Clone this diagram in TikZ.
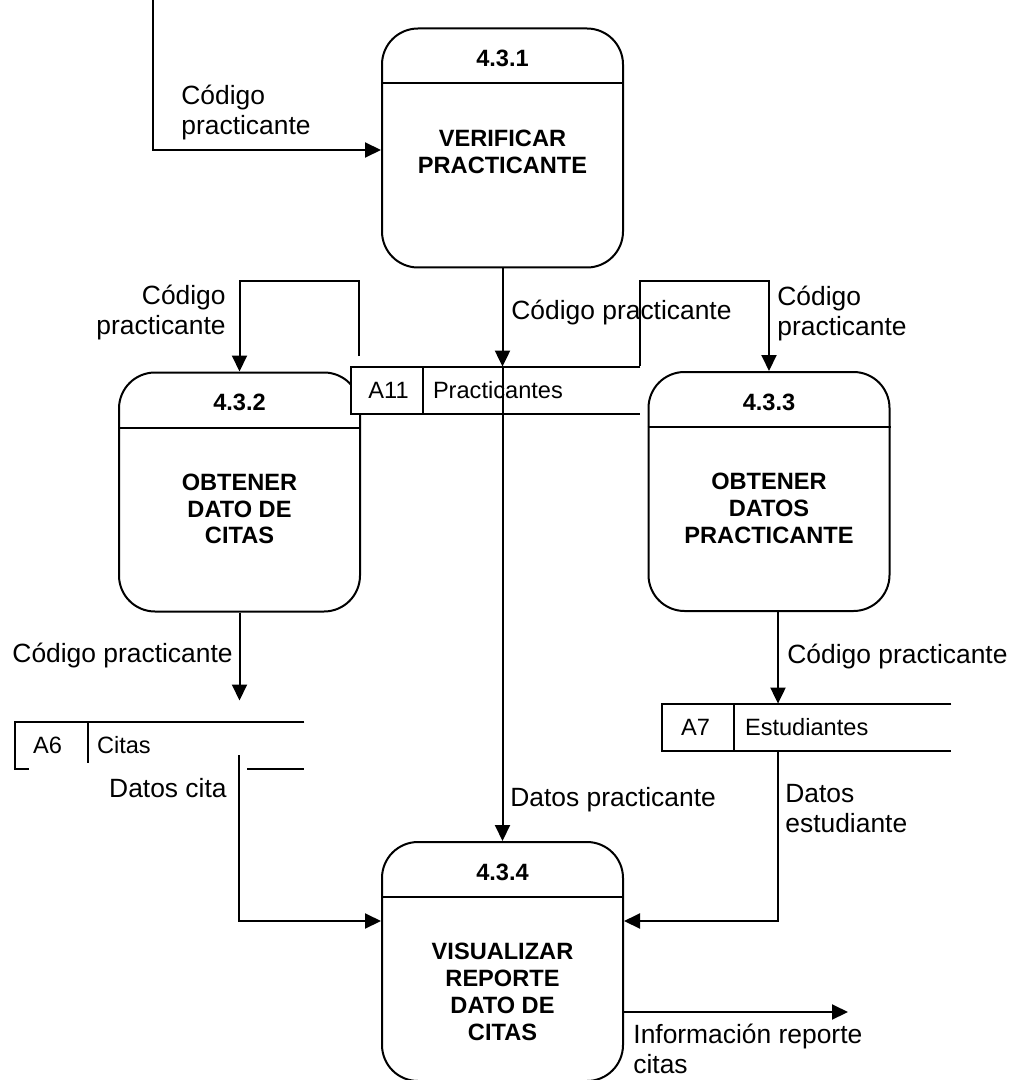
\documentclass[tikz,border=0pt]{standalone}
\usepackage{fontspec}
\setmainfont{Liberation Sans}
\usetikzlibrary{arrows.meta,calc}

\begin{document}
\begin{tikzpicture}[
  x=0.5pt, y=-0.5pt,
  >={Triangle[length=8pt,width=7.5pt]},
  font=\fontsize{13.2pt}{15pt}\selectfont,
  proc/.style ={draw, line width=1pt, rounded corners=18pt, fill=white,
                minimum width=120.5pt, minimum height=119.5pt, inner sep=0pt},
  pnum/.style ={inner sep=0pt, font=\fontsize{11.8pt}{13.4pt}\selectfont\bfseries},
  pname/.style={inner sep=0pt, align=center, anchor=north,
                font=\fontsize{11.8pt}{13.4pt}\selectfont\bfseries},
  store/.style={inner sep=0pt, fill=white, minimum width=144.5pt, minimum height=23.5pt},
  stxt/.style ={inner sep=0pt, font=\fontsize{11.8pt}{13.4pt}\selectfont},
  line/.style ={draw, line width=1pt},
  flow/.style ={->, draw, line width=1pt},
  lbl/.style  ={inner sep=0pt, align=left},
]
\useasboundingbox (0,0) rectangle (1013,1080);

% ---- processes (units are pixels of the page, y down)
\node[proc] (p1) at (502.5,148) {};
\node[proc] (p2) at (239.5,492) {};
\node[proc] (p3) at (769,491.5) {};
\node[proc] (p4) at (502.5,961.5) {};

\draw[line] ($(p1.north west)+(0,56)$) -- ($(p1.north east)+(0,56)$);
\draw[line] ($(p2.north west)+(0,56)$) -- ($(p2.north east)+(0,56)$);
\draw[line] ($(p3.north west)+(0,56)$) -- ($(p3.north east)+(0,56)$);
\draw[line] ($(p4.north west)+(0,56)$) -- ($(p4.north east)+(0,56)$);

\node[pnum] at ($(p1.north)+(0,31)$) {4.3.1};
\node[pnum] at ($(p2.north)+(0,31)$) {4.3.2};
\node[pnum] at ($(p3.north)+(0,31)$) {4.3.3};
\node[pnum] at ($(p4.north)+(0,31)$) {4.3.4};

\node[pname] at ($(p1.north)+(0,102)$) {VERIFICAR\\PRACTICANTE};
\node[pname] at ($(p2.north)+(0,102)$) {OBTENER\\DATO DE\\CITAS};
\node[pname] at ($(p3.north)+(0,102)$) {OBTENER\\DATOS\\PRACTICANTE};
\node[pname] at ($(p4.north)+(0,102)$) {VISUALIZAR\\REPORTE\\DATO DE\\CITAS};

% ---- data stores, open on the right
\node[store] (a11) at (495.5,390.5) {};
\draw[line] (a11.north east) -- (a11.north west) -- (a11.south west) -- (a11.south east);
\draw[line] ($(a11.north west)+(72,0)$) -- ($(a11.south west)+(72,0)$);
\node[stxt] at ($(a11.west)+(38,0)$) {A11};
\node[stxt, anchor=west] at ($(a11.west)+(82,0)$) {Practicantes};

\node[store] (a6) at (159.5,745.5) {};
\draw[line] (a6.north east) -- (a6.north west) -- (a6.south west) -- ++(14,0);
\draw[line] ($(a6.south east)+(-57,0)$) -- (a6.south east);
\draw[line] ($(a6.north west)+(73,0)$) -- ($(a6.south west)+(73,-6)$);
\node[stxt] at ($(a6.west)+(33,0)$) {A6};
\node[stxt, anchor=west] at ($(a6.west)+(82,0)$) {Citas};

\node[store] (a7) at (806.5,727.5) {};
\draw[line] (a7.north east) -- (a7.north west) -- (a7.south west) -- (a7.south east);
\draw[line] ($(a7.north west)+(72,0)$) -- ($(a7.south west)+(72,0)$);
\node[stxt] at ($(a7.west)+(34,0)$) {A7};
\node[stxt, anchor=west] at ($(a7.west)+(83,0)$) {Estudiantes};

% ---- flows
\coordinate (src) at (153,0);
\draw[flow] (src) |- ($(p1.west)+(0,2)$);
\node[lbl, anchor=west] at (181,112.5) {Código\\practicante};

\draw[flow] (p1.south) -- (p1.south |- a11.north);
\draw[flow] (p1.south |- a11.north) -- (p4.north);
\node[lbl, anchor=west] at (511,313) {Código practicante};
\node[lbl, anchor=west] at (510,800) {Datos practicante};

\coordinate (l1) at (359,356);
\draw[flow] (l1) -- (l1 |- 0,281) -| (p2.north);
\node[lbl, anchor=east, align=right] at (226,312.5) {Código\\practicante};

\coordinate (r1) at (640,366);
\draw[flow] (r1) -- (r1 |- 0,281) -| (p3.north);
\node[lbl, anchor=west] at (777,314) {Código\\practicante};

\draw[flow] (p2.south) -- ++(0,88);
\node[lbl, anchor=east] at (233,656) {Código practicante};

\coordinate (a6out) at (239,755);
\draw[flow] (a6out) |- ($(p4.north west)+(0,80)$);
\node[lbl, anchor=east] at (227,788) {Datos cita};

\coordinate (p3s) at ($(p3.south)+(9,0)$);
\draw[flow] (p3s) -- (p3s |- a7.north);
\node[lbl, anchor=west] at (787,657) {Código practicante};

\draw[flow] (p3s |- a7.south) |- ($(p4.north east)+(0,80)$);
\node[lbl, anchor=west] at (785,809) {Datos\\estudiante};

\coordinate (snk) at (848,1012);
\draw[flow] (p4.east |- snk) -- (snk);
\node[lbl, anchor=west] at (633,1049) {Información reporte\\citas};

\end{tikzpicture}
\end{document}
